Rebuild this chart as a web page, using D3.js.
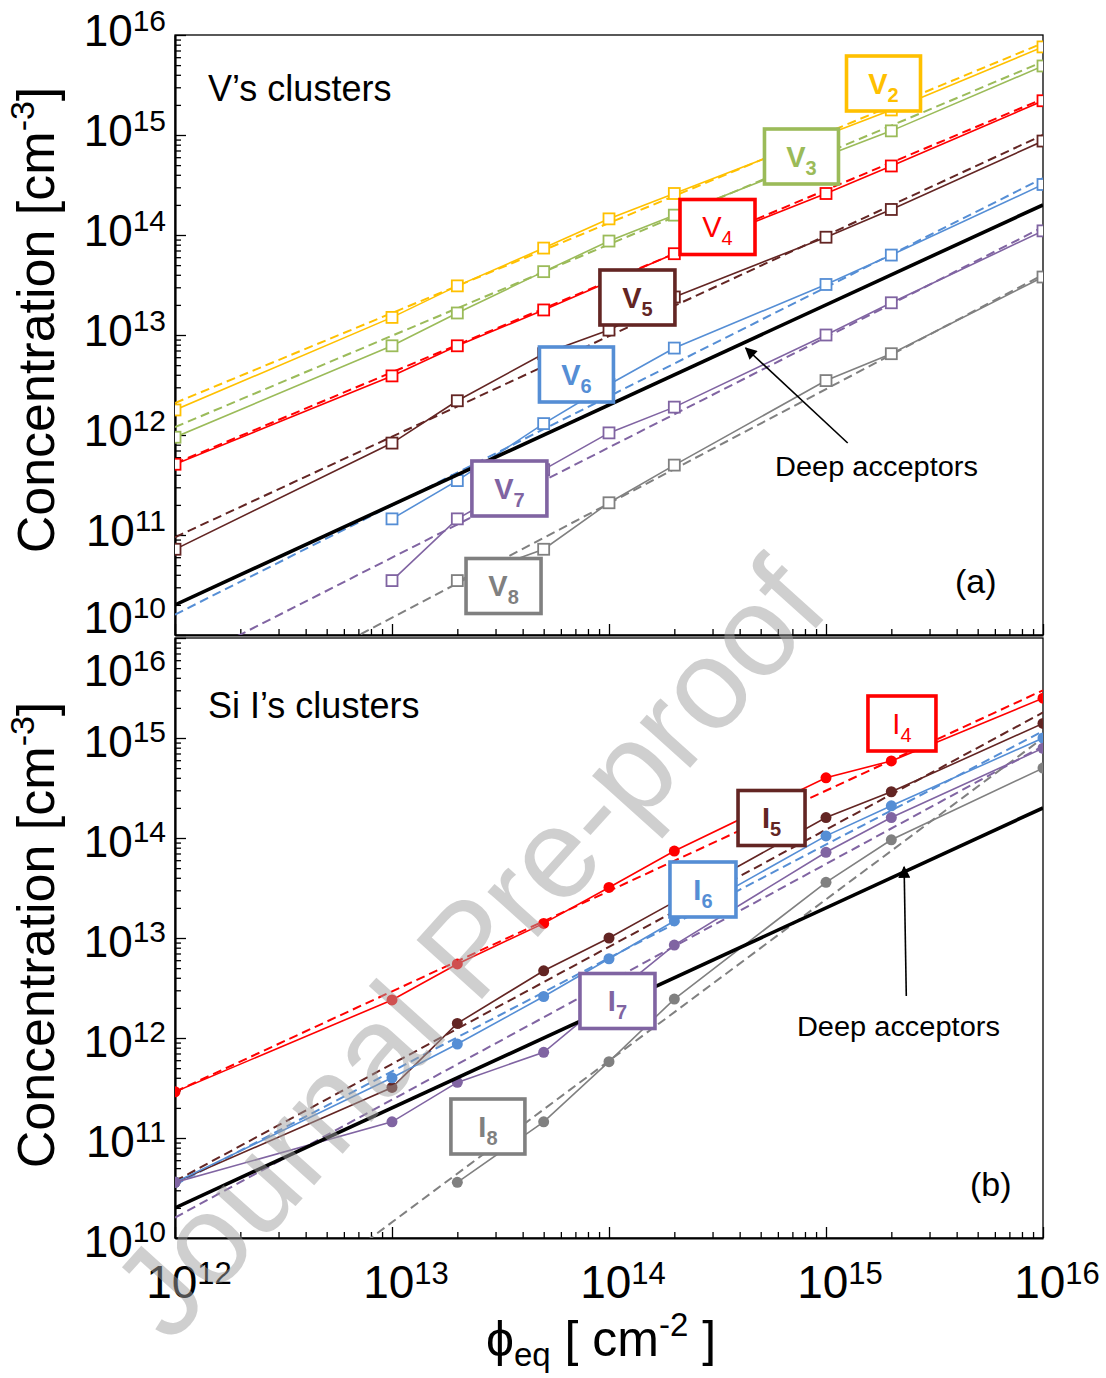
<!DOCTYPE html>
<html lang="en">
<head>
<meta charset="UTF-8">
<script src="https://cdnjs.cloudflare.com/ajax/libs/d3/7.8.5/d3.min.js"></script>
<title>Cluster concentrations vs fluence</title>
<style>
    body { margin: 0; background: #fff; }
    text { font-family: Arial, "Liberation Sans", sans-serif; }
</style>
</head>
<body>
<script>
// fluence points (cm-2)
const phi = [1e12, 1e13, 2e13, 5e13, 1e14, 2e14, 1e15, 2e15, 1e16];

// (a) vacancy clusters, cm-3
const V2 = [1.78e12, 1.5e13, 3.1e13, 7.4e13, 1.45e14, 2.6e14, 1.0e15, 1.78e15, 7.6e15];
const V3 = [9.5e11, 7.8e12, 1.66e13, 4.3e13, 8.7e13, 1.58e14, 6.2e14, 1.1e15, 4.9e15];
const V4 = [5.1e11, 3.9e12, 7.8e12, 1.78e13, 3.4e13, 6.5e13, 2.6e14, 4.9e14, 2.2e15];
const V5 = [7.2e10, 8.3e11, 2.2e12, 6.5e12, 1.12e13, 2.4e13, 9.5e13, 1.8e14, 8.7e14];
const V6 = [null, 1.45e11, 3.5e11, 1.3e12, 3.2e12, 7.4e12, 3.2e13, 6.3e13, 3.2e14];
const V7 = [null, 3.5e10, 1.45e11, 4.5e11, 1.05e12, 1.9e12, 1.0e13, 2.1e13, 1.1e14];
const V8 = [null, null, 3.5e10, 7.2e10, 2.1e11, 5.0e11, 3.5e12, 6.5e12, 3.8e13];

// (b) interstitial clusters, cm-3
const I4 = [2.9e11, 2.4e12, 5.5e12, 1.4e13, 3.2e13, 7.4e13, 4.0e14, 5.9e14, 2.5e15];
const I5 = [3.6e10, 3.2e11, 1.4e12, 4.7e12, 1.0e13, 2.3e13, 1.6e14, 2.9e14, 1.4e15];
const I6 = [3.6e10, 4.0e11, 8.7e11, 2.6e12, 6.2e12, 1.48e13, 1.05e14, 2.1e14, 1.0e15];
const I7 = [3.6e10, 1.45e11, 3.6e11, 7.2e11, 2.5e12, 8.5e12, 7.2e13, 1.6e14, 7.9e14];
const I8 = [null, null, 3.6e10, 1.45e11, 5.8e11, 2.45e12, 3.6e13, 9.6e13, 5.0e14];

// power-law fits (dashed), value at 1e12 and at 1e16
const fitPhi = [1e12, 1e16];
const V2fit = [2.09e12, 8.3e15];
const V3fit = [1.2e12, 5.4e15];
const V4fit = [5.2e11, 2.3e15];
const V5fit = [9.5e10, 1.0e15];
const V6fit = [1.6e10, 3.7e14];
const V7fit = [4.7e9, 1.2e14];
const V8fit = [1.07e9, 4.0e13];
const I4fit = [2.9e11, 3.0e15];
const I5fit = [3.7e10, 1.8e15];
const I6fit = [3.4e10, 1.17e15];
const I7fit = [1.6e10, 8.3e14];
const I8fit = [3.5e8, 1.0e15];

// deep acceptors
const deepConc = [2e10, 2e14];

const vNames = ["2", "3", "4", "5", "6", "7", "8"];
const iNames = ["4", "5", "6", "7", "8"];
const xTickExp = [12, 13, 14, 15, 16];
const yTickExp = [10, 11, 12, 13, 14, 15, 16];

// colours
const cYellow = "#FFC000", cGreen = "#9BBB59", cRed = "#FF0000", cBrown = "#632523",
      cBlue = "#558ED5", cPurple = "#8064A2", cGray = "#808080";

const W = 1106, H = 1378;
const left = 175, right = 1043;

const svg = d3.select("body").append("svg")
    .attr("width", W).attr("height", H);
svg.append("rect").attr("width", W).attr("height", H).attr("fill", "#fff");

const defs = svg.append("defs");
defs.append("marker").attr("id", "arr")
    .attr("viewBox", "0 0 10 10").attr("refX", 9).attr("refY", 5)
    .attr("markerUnits", "userSpaceOnUse")
    .attr("markerWidth", 16).attr("markerHeight", 12)
    .attr("orient", "auto")
  .append("path").attr("d", "M0,0 L10,5 L0,10 z").attr("fill", "#000");

const x = d3.scaleLog().domain([1e12, 1e16]).range([left, right]);

const panels = [
    {
        id: "a", top: 35, bottom: 635,
        series: [
            {v: V2, fit: V2fit, c: cYellow}, {v: V3, fit: V3fit, c: cGreen},
            {v: V4, fit: V4fit, c: cRed}, {v: V5, fit: V5fit, c: cBrown},
            {v: V6, fit: V6fit, c: cBlue}, {v: V7, fit: V7fit, c: cPurple},
            {v: V8, fit: V8fit, c: cGray}
        ],
        marker: "square", title: "V\u2019s clusters", titleDy: 66, tag: "(a)", tagX: 955,
        labOff: {def: 11, 10: -2},
        letter: "V", names: vNames,
        // label box centres in log10 units, box widths, bold flags
        labLX: [15.265, 14.887, 14.5, 14.131, 13.85, 13.541, 13.514],
        labLY: [15.515, 14.785, 14.08, 13.375, 12.605, 11.465, 10.49],
        labW: [74, 74, 75, 75, 74, 75, 75],
        bold: [true, true, false, true, true, true, true],
        arrow: {from: [15.10, 11.92], to: [14.63, 12.87]},
        deepText: {lx: 14.765, ly: 11.59},
        titleY: 320
    },
    {
        id: "b", top: 638, bottom: 1238,
        series: [
            {v: I4, fit: I4fit, c: cRed}, {v: I5, fit: I5fit, c: cBrown},
            {v: I6, fit: I6fit, c: cBlue}, {v: I7, fit: I7fit, c: cPurple},
            {v: I8, fit: I8fit, c: cGray}
        ],
        marker: "circle", title: "Si I\u2019s clusters", titleDy: 80, tag: "(b)", tagX: 970,
        labOff: {def: 19, 16: 48},
        letter: "I", names: iNames,
        labLX: [15.35, 14.749, 14.433, 14.039, 13.442],
        labLY: [15.145, 14.2, 13.485, 12.37, 11.115],
        labW: [68, 67, 66, 75, 74],
        bold: [false, true, true, true, true],
        arrow: {from: [15.37, 12.42], to: [15.36, 13.71]},
        deepText: {lx: 14.866, ly: 12.02},
        titleY: 935
    }
];

function isMajor(d) {
    const l = Math.log10(d);
    return Math.abs(l - Math.round(l)) < 1e-9;
}

function minorVals(e0, e1) {
    const t = [];
    for (let e = e0; e < e1; e++) for (let m = 1; m < 10; m++) t.push(m * Math.pow(10, e));
    t.push(Math.pow(10, e1));
    return t;
}

panels.forEach(function (p) {
    const y = d3.scaleLog().domain([1e10, 1e16]).range([p.bottom, p.top]);
    const g = svg.append("g").attr("id", "panel-" + p.id);

    defs.append("clipPath").attr("id", "clip-" + p.id)
      .append("rect").attr("x", left).attr("y", p.top)
        .attr("width", right - left).attr("height", p.bottom - p.top);

    // frame
    g.append("rect").attr("x", left).attr("y", p.top)
        .attr("width", right - left).attr("height", p.bottom - p.top)
        .attr("fill", "none").attr("stroke", "#000").attr("stroke-width", 1.3);

    // y axis, ticks inward
    const yAx = g.append("g").attr("transform", `translate(${left},0)`)
        .call(d3.axisLeft(y).tickValues(minorVals(10, 16)).tickFormat("")
            .tickSize(-6).tickSizeOuter(0));
    yAx.select(".domain").attr("stroke-width", 2.2);
    yAx.selectAll(".tick line").attr("stroke-width", 1.3)
        .filter(isMajor).attr("x2", 11);

    // x axis, ticks inward
    const xAx = g.append("g").attr("transform", `translate(0,${p.bottom})`)
        .call(d3.axisBottom(x).tickValues(minorVals(12, 16)).tickFormat("")
            .tickSize(-6).tickSizeOuter(0));
    xAx.select(".domain").attr("stroke-width", 2.2);
    xAx.selectAll(".tick line").attr("stroke-width", 1.3)
        .filter(isMajor).attr("y2", -11);

    // y tick labels
    yTickExp.forEach(function (e) {
        const off = p.labOff[e] !== undefined ? p.labOff[e] : p.labOff.def;
        const t = g.append("text").attr("x", 166).attr("y", y(Math.pow(10, e)) + off)
            .attr("text-anchor", "end").attr("font-size", 44).attr("fill", "#000");
        t.append("tspan").text("10");
        t.append("tspan").attr("font-size", 30).attr("dy", -15).text(e);
    });

    // y title
    const yt = g.append("text")
        .attr("transform", `translate(54,${p.titleY}) rotate(-90)`)
        .attr("text-anchor", "middle").attr("font-size", 52);
    yt.append("tspan").text("Concentration [cm");
    yt.append("tspan").attr("font-size", 34).attr("dy", -20).text("-3");
    yt.append("tspan").attr("dy", 20).text("]");

    const plot = g.append("g").attr("clip-path", `url(#clip-${p.id})`);
    const line = d3.line().x(d => x(d[0])).y(d => y(d[1]));

    // dashed fits
    p.series.forEach(function (s) {
        plot.append("path")
            .datum(fitPhi.map((f, i) => [f, s.fit[i]]))
            .attr("d", line).attr("fill", "none")
            .attr("stroke", s.c).attr("stroke-width", 2).attr("stroke-dasharray", "9,5");
    });

    // solid data lines + markers
    p.series.forEach(function (s) {
        const pts = phi.map((f, i) => [f, s.v[i]]).filter(d => d[1] != null);
        plot.append("path").datum(pts).attr("d", line).attr("fill", "none")
            .attr("stroke", s.c).attr("stroke-width", 1.6);
        if (p.marker === "square") {
            plot.selectAll(null).data(pts).enter().append("rect")
                .attr("x", d => x(d[0]) - 5.5).attr("y", d => y(d[1]) - 5.5)
                .attr("width", 11).attr("height", 11)
                .attr("fill", "#fff").attr("stroke", s.c).attr("stroke-width", 1.8);
        } else {
            plot.selectAll(null).data(pts).enter().append("circle")
                .attr("cx", d => x(d[0])).attr("cy", d => y(d[1])).attr("r", 5.5)
                .attr("fill", s.c);
        }
    });

    // deep acceptors
    plot.append("path").datum(fitPhi.map((f, i) => [f, deepConc[i]]))
        .attr("d", line).attr("fill", "none")
        .attr("stroke", "#000").attr("stroke-width", 3.6);

    // arrow + text
    g.append("line")
        .attr("x1", x(Math.pow(10, p.arrow.from[0]))).attr("y1", y(Math.pow(10, p.arrow.from[1])))
        .attr("x2", x(Math.pow(10, p.arrow.to[0]))).attr("y2", y(Math.pow(10, p.arrow.to[1])))
        .attr("stroke", "#000").attr("stroke-width", 1.6).attr("marker-end", "url(#arr)");
    g.append("text")
        .attr("x", x(Math.pow(10, p.deepText.lx))).attr("y", y(Math.pow(10, p.deepText.ly)))
        .attr("font-size", 27).attr("textLength", 203).attr("lengthAdjust", "spacingAndGlyphs")
        .text("Deep acceptors");

    // label boxes
    p.names.forEach(function (n, i) {
        const cx = x(Math.pow(10, p.labLX[i])), cy = y(Math.pow(10, p.labLY[i]));
        const w = p.labW[i], h = 55, c = p.series[i].c;
        g.append("rect").attr("x", cx - w / 2).attr("y", cy - h / 2)
            .attr("width", w).attr("height", h)
            .attr("fill", "#fff").attr("stroke", c).attr("stroke-width", 3.6);
        const t = g.append("text").attr("x", cx).attr("y", cy + 10)
            .attr("text-anchor", "middle").attr("fill", c)
            .attr("font-weight", p.bold[i] ? "bold" : "normal")
            .attr("font-size", 29);
        t.append("tspan").text(p.letter);
        t.append("tspan").attr("font-size", 20).attr("dy", 8).text(n);
    });

    // panel title and tag
    g.append("text").attr("x", 208).attr("y", p.top + p.titleDy)
        .attr("font-size", 36).text(p.title);
    g.append("text").attr("x", p.tagX).attr("y", p.bottom - 42)
        .attr("font-size", 34).text(p.tag);

    // x tick labels only on the bottom panel
    if (p.id === "b") {
        xTickExp.forEach(function (e) {
            const t = g.append("text").attr("x", x(Math.pow(10, e)) + 14).attr("y", 1298)
                .attr("text-anchor", "middle").attr("font-size", 46);
            t.append("tspan").text("10");
            t.append("tspan").attr("font-size", 31).attr("dy", -14).text(e);
        });
    }
});

// x title
const xt = svg.append("text").attr("x", 601).attr("y", 1356)
    .attr("text-anchor", "middle").attr("font-size", 50);
xt.append("tspan").text("\u03D5");
xt.append("tspan").attr("font-size", 33).attr("dy", 10).text("eq");
xt.append("tspan").attr("dy", -10).text(" [ cm");
xt.append("tspan").attr("font-size", 33).attr("dy", -20).text("-2");
xt.append("tspan").attr("dy", 20).text(" ]");

// watermark
svg.append("text")
    .attr("transform", "translate(468,948) rotate(-48)")
    .attr("text-anchor", "middle").attr("dominant-baseline", "central")
    .attr("font-size", 128).attr("fill", "#a0a0a0").attr("opacity", 0.5)
    .text("Journal Pre-proof");
</script>
</body>
</html>
